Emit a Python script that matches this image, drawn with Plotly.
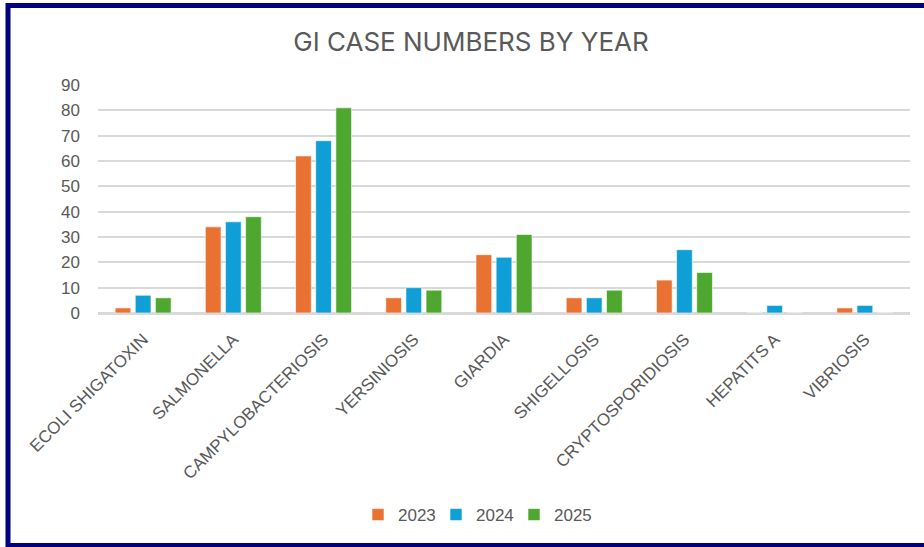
import plotly.graph_objects as go

categories = ["ECOLI SHIGATOXIN", "SALMONELLA", "CAMPYLOBACTERIOSIS", "YERSINIOSIS",
              "GIARDIA", "SHIGELLOSIS", "CRYPTOSPORIDIOSIS", "HEPATITS A", "VIBRIOSIS"]
cases_2023 = [2, 34, 62, 6, 23, 6, 13, 0, 2]
cases_2024 = [7, 36, 68, 10, 22, 6, 25, 3, 3]
cases_2025 = [6, 38, 81, 9, 31, 9, 16, 0, 0]
series_names = ["2023", "2024", "2025"]
colors = ["#E97132", "#0F9ED5", "#4EA72E"]

W, H = 924, 547
L, R, T, B = 98, 14, 85, 234
pw, ph = W - L - R, H - T - B

def px(x):
    return (x - L) / pw

def py(y):
    return (H - B - y) / ph

fig = go.Figure()
for name, vals, col in zip(series_names, [cases_2023, cases_2024, cases_2025], colors):
    fig.add_trace(go.Bar(x=categories, y=vals, name=name,
                         marker=dict(color=col, line=dict(color="rgba(255,255,255,0.6)", width=1))))

grey = "#595959"
fig.update_layout(
    width=W, height=H, autosize=False,
    margin=dict(l=L, r=R, t=T, b=B),
    paper_bgcolor="white", plot_bgcolor="white",
    barmode="group", bargap=0.33, bargroupgap=0.22,
    font=dict(family="Liberation Sans, Arial, sans-serif", color=grey, size=17),
    title=dict(text="GI CASE NUMBERS BY YEAR", x=471 / W, xanchor="center",
               xref="container", yref="container", y=1 - 42 / H, yanchor="middle",
               font=dict(family="Inter, Open Sans, sans-serif", size=26, color=grey)),
    legend=dict(orientation="h", x=px(358), xanchor="left", y=py(515), yanchor="middle",
                font=dict(size=17, color=grey), traceorder="normal", itemwidth=30,
                entrywidth=33, entrywidthmode="pixels"),
    xaxis=dict(tickangle=-45, showgrid=False, showline=True, linecolor="#D9D9D9",
               linewidth=1.5, ticks="", tickfont=dict(size=17, color=grey),
               ticklabelstandoff=8),
    yaxis=dict(range=[0, 90], dtick=10, showgrid=True, gridcolor="#D9D9D9", gridwidth=1.5,
               zeroline=True, zerolinecolor="#D9D9D9", zerolinewidth=1.5,
               tickfont=dict(size=17, color=grey), ticklabelstandoff=17),
    shapes=[
        dict(type="rect", xref="paper", yref="paper",
             x0=px(8), x1=px(940), y0=py(545.5), y1=py(5.5),
             line=dict(color="#000080", width=5), fillcolor="rgba(0,0,0,0)", layer="above"),
    ],
)

fig.write_html("out.html", config={"displayModeBar": False},
               post_script="document.body.style.margin='0';document.body.style.padding='0';")
